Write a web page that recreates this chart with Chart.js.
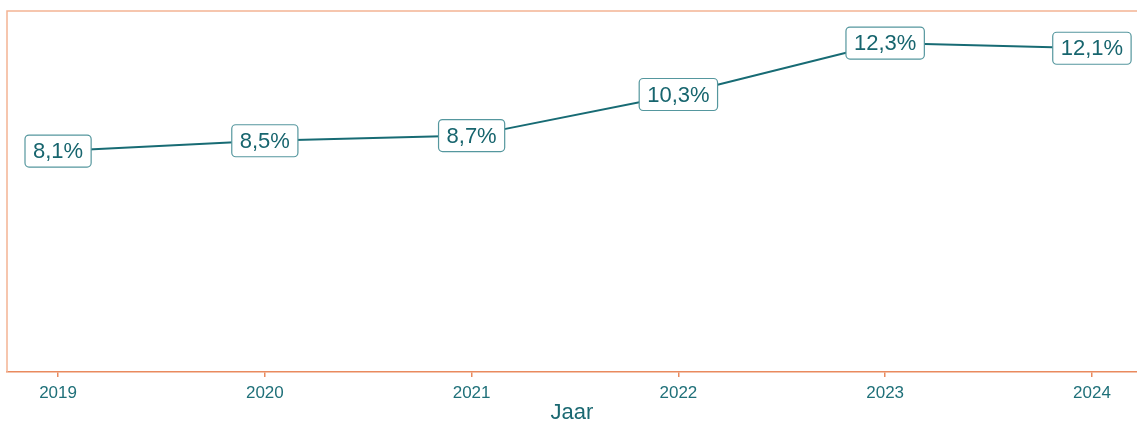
<!DOCTYPE html>
<html>
<head>
<meta charset="utf-8">
<script src="https://cdn.jsdelivr.net/npm/chart.js@4/dist/chart.umd.min.js"></script>
<style>
  html, body { margin: 0; padding: 0; background: #fff; }
  #wrap { width: 1137px; height: 426px; position: relative; }
</style>
</head>
<body>
<div id="wrap"><canvas id="chart"></canvas></div>
<script>
// jaren en aandeel (%)
var years = [2019, 2020, 2021, 2022, 2023, 2024];
var shares = [8.1, 8.5, 8.7, 10.3, 12.3, 12.1];
var shareLabels = ["8,1%", "8,5%", "8,7%", "10,3%", "12,3%", "12,1%"];

var teal = "#176b74";
var tealText = "#17656e";
var boxBorder = "#55979e";
var orange = "#e98a5e";
var orangeLight = "#f4b494";

// rand boven en links van het plotvlak
var framePlugin = {
  id: "frame",
  beforeDatasetsDraw: function (chart) {
    var ctx = chart.ctx, a = chart.chartArea;
    ctx.save();
    ctx.strokeStyle = orangeLight;
    ctx.lineWidth = 1.5;
    ctx.beginPath();
    ctx.moveTo(a.left, a.bottom);
    ctx.lineTo(a.left, a.top);
    ctx.lineTo(chart.width, a.top);
    ctx.stroke();
    ctx.restore();
  }
};

// labels met afgeronde kaders op elk punt
var boxLabelPlugin = {
  id: "boxLabels",
  afterDatasetsDraw: function (chart) {
    var ctx = chart.ctx;
    var meta = chart.getDatasetMeta(0);
    ctx.save();
    ctx.font = "22px 'Liberation Sans', Arial, sans-serif";
    ctx.textAlign = "center";
    ctx.textBaseline = "middle";
    meta.data.forEach(function (pt, i) {
      var txt = shareLabels[i];
      var w = ctx.measureText(txt).width + 16;
      var h = 32;
      var x = pt.x - w / 2, y = pt.y - h / 2;
      ctx.beginPath();
      ctx.roundRect(x, y, w, h, 4);
      ctx.fillStyle = "#fff";
      ctx.fill();
      ctx.lineWidth = 1.2;
      ctx.strokeStyle = boxBorder;
      ctx.stroke();
      ctx.fillStyle = tealText;
      ctx.fillText(txt, pt.x, pt.y + 1);
    });
    ctx.restore();
  }
};

var ctx = document.getElementById("chart").getContext("2d");
var chart = new Chart(ctx, {
  type: "line",
  data: {
    datasets: [{
      data: years.map(function (y, i) { return { x: y, y: shares[i] }; }),
      borderColor: teal,
      borderWidth: 2,
      pointRadius: 0,
      tension: 0,
      fill: false
    }]
  },
  options: {
    responsive: true,
    maintainAspectRatio: false,
    animation: false,
    layout: { padding: { left: 7, top: 11, right: 0, bottom: 0 } },
    plugins: { legend: { display: false }, tooltip: { enabled: false } },
    scales: {
      x: {
        type: "linear",
        min: 2018.753,
        max: 2024.218,
        afterBuildTicks: function (scale) {
          scale.ticks = years.map(function (v) { return { value: v }; });
        },
        afterFit: function (scale) { scale.height = 54; },
        border: { display: true, color: orange, width: 1.5 },
        grid: { drawOnChartArea: false, drawTicks: true, tickLength: 5, color: orange, lineWidth: 1.5 },
        ticks: {
          color: "#1f7079",
          font: { family: "'Liberation Sans', Arial, sans-serif", size: 17 },
          padding: 6,
          maxRotation: 0,
          callback: function (v) { return String(v); }
        },
        title: {
          display: true,
          text: "Jaar",
          color: "#1a6871",
          font: { family: "'Liberation Sans', Arial, sans-serif", size: 22 },
          padding: { top: 1, bottom: 0 }
        }
      },
      y: {
        display: false,
        min: -0.5,
        max: 13.55
      }
    }
  },
  plugins: [framePlugin, boxLabelPlugin]
});
</script>
</body>
</html>
